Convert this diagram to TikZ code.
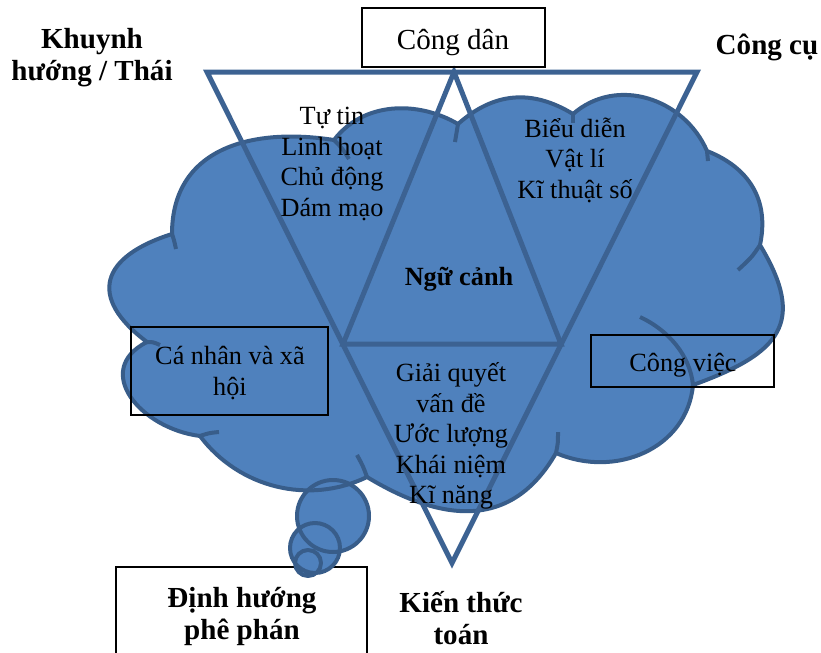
\documentclass[tikz,border=0pt]{standalone}
\usepackage{fontspec}
\setmainfont{Liberation Serif}
\usepackage{tikz}

\definecolor{cloudfill}{RGB}{79,129,189}
\definecolor{cloudedge}{RGB}{56,93,138}
\definecolor{triedge}{RGB}{60,98,146}

\newcommand{\bodyfont}{\fontsize{19.7}{22.9}\selectfont}
\newcommand{\headfont}{\fontsize{21.8}{24}\selectfont\bfseries}
% outline of the cloud, used for the fill and for the stroke
\newcommand{\cloudoutline}{(147,342) .. controls (87,297) and (101,256.5) .. (172,234)
 .. controls (172,149) and (250,127) .. (334,140)
 .. controls (363,102) and (417,100) .. (458,124)
 .. controls (494,92) and (532,89) .. (573,114)
 .. controls (616.5,76) and (684,98) .. (707,151)
 .. controls (749,167.5) and (769.6,200) .. (760,245)
 .. controls (807,323) and (780,353.5) .. (693,385)
 .. controls (687,449) and (615,478.6) .. (556,453)
 .. controls (512,529.6) and (443,523) .. (367,477)
 .. controls (309,505) and (239,488) .. (200,436)
 .. controls (140,428.4) and (92,370) .. (147,342) -- cycle}

\begin{document}
\begin{tikzpicture}[x=0.75pt,y=0.75pt,yscale=-1,xscale=1,
  cloudline/.style={draw=cloudedge, line width=3pt, line join=round},
  triline/.style={draw=triedge, line width=3.75pt},
  labelbox/.style={draw=black, line width=1.5pt},
  bodytext/.style={inner sep=0.75pt, align=center, font=\bodyfont},
  headtext/.style={inner sep=0.75pt, align=center, font=\headfont}]
\useasboundingbox (0,0) rectangle (821,653);

%Shape: Rectangle [id:boxdinhhuong]
\draw [labelbox] (116,567) rectangle (367,662) ;

%Shape: Cloud Callout [id:cloud] fill first, then every outline
\fill [cloudfill] \cloudoutline ;
\fill [cloudfill] (333,516) circle [radius=36] (315,548) circle [radius=25] (308,563) circle [radius=13] ;
\draw [cloudline] \cloudoutline ;
\draw [cloudline] (333,516) circle [radius=36] (315,548) circle [radius=25] (308,563) circle [radius=13] ;
%Curve Lines [id:cloudstubs]
\draw [cloudline] (172,234) .. controls (174,240) .. (176,249) ;
\draw [cloudline] (334,140) .. controls (342,148) .. (349,159) ;
\draw [cloudline] (458,124) .. controls (456,133) .. (455,142) ;
\draw [cloudline] (573,114) -- (573,123) ;
\draw [cloudline] (707,151) -- (708,161) ;
\draw [cloudline] (760,245) .. controls (752,257) .. (738,270) ;
\draw [cloudline] (640,317) .. controls (668,330) and (690,355) .. (693,385) ;
\draw [cloudline] (556,453) .. controls (558,443) .. (558,432) ;
\draw [cloudline] (367,477) .. controls (363,466) .. (357,455) ;
\draw [cloudline] (200,436) .. controls (209,433) .. (219,432) ;
\draw [cloudline] (147,342) .. controls (153,342) .. (160,345) ;

%Shape: Triangle [id:bigtri]
\draw [triline] (207,72) -- (697,72) -- (452,563) -- cycle ;
%Shape: Triangle [id:innertri]
\draw [triline] (454,72) -- (561,344) -- (343,344) -- cycle ;

%Shape: Rectangle [id:boxcongdan]
\draw [labelbox] (362,8) rectangle (545,67) ;
%Shape: Rectangle [id:boxcanhan]
\draw [labelbox] (131,327) rectangle (328,415) ;
%Shape: Rectangle [id:boxcongviec]
\draw [labelbox] (591,335) rectangle (774,387) ;

% Text Node
\draw (92,58) node [headtext] (khuynhhuong) {Khuynh\\hướng / Thái};
% Text Node
\draw (767,47) node [headtext] (congcu) {Công cụ};
% Text Node
\draw (453,43) node [bodytext, font=\fontsize{21.8}{24}\selectfont] (congdan) {Công dân};
% Text Node
\draw (332,164) node [bodytext] (thaido) {Tự tin\\Linh hoạt\\Chủ động\\Dám mạo};
% Text Node
\draw (575,160) node [bodytext] (congcuds) {Biểu diễn\\Vật lí\\Kĩ thuật số};
% Text Node
\draw (459,279) node [bodytext, font=\bodyfont\bfseries] (ngucanh) {Ngữ cảnh};
% Text Node
\draw (451,436) node [bodytext] (kienthucds) {Giải quyết\\vấn đề\\Ước lượng\\Khái niệm\\Kĩ năng};
% Text Node
\draw (230,373) node [bodytext] (canhan) {Cá nhân và xã\\hội};
% Text Node
\draw (683,365) node [bodytext] (congviec) {Công việc};
% Text Node
\draw (242,616) node [headtext] (dinhhuong) {Định hướng\\phê phán};
% Text Node
\draw (461,618) node [headtext] (kienthuc) {Kiến thức\\toán};
\end{tikzpicture}
\end{document}
